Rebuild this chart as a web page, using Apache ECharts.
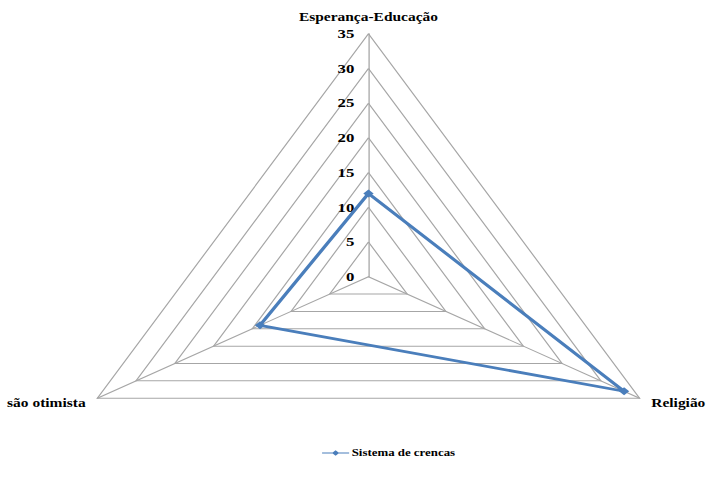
<!DOCTYPE html>
<html>
<head>
<meta charset="utf-8">
<script src="https://cdn.jsdelivr.net/npm/echarts@6/dist/echarts.min.js"></script>
<style>
  html, body { margin: 0; padding: 0; background: #ffffff; }
  #wrap { width: 706px; height: 481px; overflow: hidden; position: relative; background: #fff; }
  #chart { width: 548px; height: 481px; transform: scaleX(1.2883); transform-origin: 0 0; }
</style>
</head>
<body>
<div id="wrap"><div id="chart"></div></div>
<script>
// Data
const indicatorNames = ['Esperança-Educação', 'são otimista', 'Religião'];
const seriesName = 'Sistema de crencas';
const seriesValues = [12, 14, 33];
const axisMin = 0;
const axisMax = 35;
const axisStep = 5;

const serif = "'Liberation Serif', 'Times New Roman', 'DejaVu Serif', serif";
const chart = echarts.init(document.getElementById('chart'), null, { renderer: 'svg' });

const option = {
  animation: false,
  backgroundColor: '#ffffff',
  legend: {
    data: [seriesName],
    left: 245,
    top: 443,
    icon: 'path://M0,4.3H30V5.7H0Z M15,1L19,5L15,9L11,5Z',
    itemWidth: 21,
    itemHeight: 7,
    itemGap: 2,
    textStyle: { fontFamily: serif, fontWeight: 'bold', fontSize: 10, color: '#000', padding: [0, 0, 0, -3] }
  },
  radar: {
    center: [286, 276.7],
    radius: 243,
    startAngle: 90,
    shape: 'polygon',
    splitNumber: (axisMax - axisMin) / axisStep,
    nameGap: 10.5,
    axisName: { color: '#000', fontFamily: serif, fontWeight: 'bold', fontSize: 12 },
    axisLine: { lineStyle: { color: '#A6A6A6', width: 1 } },
    splitLine: { lineStyle: { color: '#A6A6A6', width: 1 } },
    splitArea: { show: false },
    axisTick: { show: false },
    axisLabel: { show: true, margin: 11, color: '#000', fontFamily: serif, fontWeight: 'bold', fontSize: 13 },
    indicator: indicatorNames.map((n, i) => ({
      name: n, min: axisMin, max: axisMax,
      axisLabel: { show: i === 0 }
    }))
  },
  series: [{
    type: 'radar',
    name: seriesName,
    symbol: 'diamond',
    symbolSize: 8,
    lineStyle: { color: '#4A7EBB', width: 2.8 },
    itemStyle: { color: '#4A7EBB' },
    data: [{ value: seriesValues, name: seriesName }]
  }]
};
chart.setOption(option);
</script>
</body>
</html>
